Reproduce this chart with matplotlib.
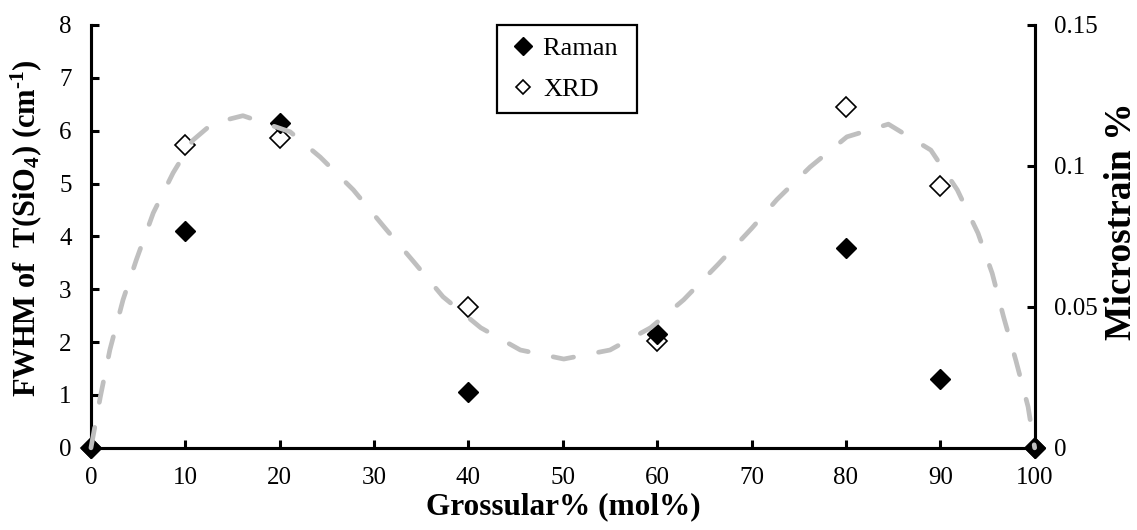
import matplotlib
matplotlib.use("Agg")
import matplotlib.pyplot as plt
from matplotlib.ticker import FuncFormatter
from matplotlib.lines import Line2D
from matplotlib.legend_handler import HandlerLine2D

plt.rcParams["font.family"] = ["Liberation Serif", "DejaVu Serif"]
plt.rcParams["mathtext.fontset"] = "custom"
plt.rcParams["mathtext.rm"] = "Liberation Serif"
plt.rcParams["mathtext.bf"] = "Liberation Serif:bold"
plt.rcParams["mathtext.default"] = "bf"

# Grossular content (mol%)
grossular = [0, 10, 20, 40, 60, 80, 90, 100]
# FWHM of T(SiO4) band, cm-1
raman_fwhm = [0, 4.10, 6.15, 1.06, 2.15, 3.78, 1.30, 0]
# XRD microstrain, %
xrd_strain = [0, 0.1074, 0.1100, 0.0499, 0.0378, 0.1208, 0.0929, 0]

# polynomial trendline through the microstrain values
trend_x = [0, 1.0, 2.0, 3.4, 4.8, 6.6, 8.7, 10.8, 12.9, 16.1, 21.1, 24.3,
           27.8, 31.2, 34.2, 37.3, 41.3, 45.5, 50.1, 55.0, 59.3, 62.8,
           66.4, 70.0, 72.7, 76.2, 80.1, 84.5, 89.0, 91.8, 94.0, 95.5,
           96.7, 98.0, 99.3, 100]
trend_y = [0, 0.0182, 0.0347, 0.0525, 0.0666, 0.0833, 0.0975, 0.1091,
           0.1151, 0.1178, 0.1121, 0.1031, 0.0915, 0.0778, 0.0660, 0.0536,
           0.0426, 0.0347, 0.0315, 0.0347, 0.0426, 0.0525, 0.0649, 0.0778,
           0.0881, 0.0996, 0.1103, 0.1148, 0.1056, 0.0915, 0.0761, 0.0619,
           0.0465, 0.0311, 0.0146, 0]


class ShiftedMarker(HandlerLine2D):
    # legend handler that nudges the marker to the right inside its box
    def __init__(self, shift, **kw):
        super().__init__(**kw)
        self.shift = shift

    def get_xdata(self, legend, xdescent, ydescent, width, height, fontsize):
        xdata, xmark = super().get_xdata(legend, xdescent, ydescent,
                                         width, height, fontsize)
        return xdata, [x + self.shift for x in xmark]


fig = plt.figure(figsize=(11.37, 5.30), dpi=100)
ax = fig.add_axes([0.080, 0.155, 0.830, 0.798])
ax2 = ax.twinx()

# everything is drawn on the top axes so the trendline sits over both series
ax2.plot(grossular, xrd_strain, linestyle="none", marker="D", ms=10,
         mfc="white", mec="black", mew=1.2, clip_on=False, zorder=3)
ax2.plot(grossular, raman_fwhm, linestyle="none", marker="D", ms=10.5,
         color="black", clip_on=False, zorder=3.5, transform=ax.transData)
trend, = ax2.plot(trend_x, trend_y, color="#BFBFBF", lw=3.4,
                  dash_capstyle="round", clip_on=False, zorder=4)
trend.set_dashes([4.4, 5.4])

ax.set_xlim(0, 100)
ax.set_ylim(0, 8)
ax2.set_ylim(0, 0.15)
ax.set_xticks(range(0, 101, 10))
ax.set_yticks(range(0, 9))
ax2.set_yticks([0, 0.05, 0.1, 0.15])
ax2.yaxis.set_major_formatter(FuncFormatter(lambda v, p: "%g" % v))

for a in (ax, ax2):
    a.spines["top"].set_visible(False)
    for s in ("left", "right", "bottom"):
        a.spines[s].set_linewidth(2.2)
    a.tick_params(direction="in", length=6, width=2.2, labelsize=18, pad=14)

ax.set_xlabel("Grossular% (mol%)", fontsize=22.5, fontweight="bold",
              labelpad=2)
ax.set_ylabel("FWHM of  T(SiO$_4$) (cm$^{\u20101}$)", fontsize=22,
              fontweight="bold")
ax.yaxis.set_label_coords(-0.050, 0.52)
ax2.set_ylabel("Microstrain %", fontsize=27, fontweight="bold")
ax2.yaxis.set_label_coords(1.073, 0.535)

h_raman = Line2D([], [], linestyle="none", marker="D", ms=9.2, color="black")
h_xrd = Line2D([], [], linestyle="none", marker="D", ms=7, mfc="white",
               mec="black", mew=1.2)
leg = ax2.legend([h_raman, h_xrd], ["Raman ", "XRD"], loc="upper left",
                 bbox_to_anchor=(0.43, 1.0), borderaxespad=0, fontsize=19,
                 frameon=True, fancybox=False, edgecolor="black",
                 handlelength=1.12, handletextpad=0.2, borderpad=0.45,
                 labelspacing=0.67,
                 handler_map={h_raman: ShiftedMarker(5.0),
                              h_xrd: ShiftedMarker(5.0)})
leg.get_frame().set_linewidth(1.6)
leg.get_frame().set_alpha(None)

fig.savefig("out.png", dpi=100)
